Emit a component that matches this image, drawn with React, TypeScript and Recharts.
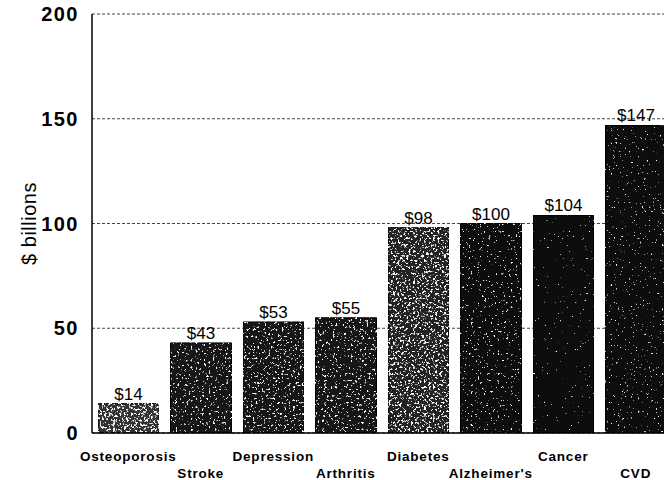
import { BarChart, Bar, XAxis, YAxis, CartesianGrid, LabelList, Cell } from 'recharts';

const conditions = ['Osteoporosis', 'Stroke', 'Depression', 'Arthritis', 'Diabetes', "Alzheimer's", 'Cancer', 'CVD'];
const costs = [14, 43, 53, 55, 98, 100, 104, 147];
const yTicks = [0, 50, 100, 150, 200];

// base tone + how much white speckle each (scanned) bar shows
const shades = ['#303030', '#141414', '#161616', '#161616', '#222222', '#101010', '#0a0a0a', '#0e0e0e'];
const speckle = [0.55, 0.64, 0.63, 0.63, 0.57, 0.68, 0.75, 0.71];

const data = conditions.map((name, i) => ({ name, cost: costs[i] }));

const font = 'Liberation Sans, Arial, sans-serif';

const StaggeredTick = ({ x, y, payload, index }: any) => (
  <text
    x={x}
    y={y + (index % 2 === 0 ? 20 : 37)}
    textAnchor="middle"
    fontFamily={font}
    fontWeight={700}
    fontSize={13.5}
    letterSpacing={0.8}
    fill="#000"
  >
    {payload.value}
  </text>
);

const ValueTick = ({ x, y, payload }: any) => (
  <text
    x={x - 5}
    y={y + 7}
    textAnchor="end"
    fontFamily={font}
    fontWeight={700}
    fontSize={20}
    letterSpacing={1.5}
    fill="#000"
  >
    {payload.value}
  </text>
);

export default function App() {
  return (
    <div style={{ position: 'fixed', left: 0, top: 0, width: 664, height: 480, overflow: 'hidden', background: '#fff' }}>
      <BarChart
        width={680}
        height={480}
        data={data}
        margin={{ top: 14, right: 8, left: 1, bottom: 0 }}
        barCategoryGap={6}
      >
        <defs>
          {speckle.map((t, i) => (
            <filter key={i} id={`grain${i}`} x="0" y="0" width="1" height="1">
              <feTurbulence type="fractalNoise" baseFrequency="0.45" numOctaves={2} seed={i + 3} result="noise" />
              <feColorMatrix
                in="noise"
                type="matrix"
                values={`0 0 0 0 1  0 0 0 0 1  0 0 0 0 1  10 0 0 0 ${-10 * t}`}
                result="dots"
              />
              <feComposite in="dots" in2="SourceGraphic" operator="in" result="clipped" />
              <feMerge>
                <feMergeNode in="SourceGraphic" />
                <feMergeNode in="clipped" />
              </feMerge>
            </filter>
          ))}
        </defs>
        <CartesianGrid horizontal vertical={false} stroke="#444" strokeDasharray="3 2" />
        <XAxis
          dataKey="name"
          interval={0}
          height={47}
          axisLine={{ stroke: '#000', strokeWidth: 1.5 }}
          tickLine={false}
          tick={<StaggeredTick />}
        />
        <YAxis
          domain={[0, 200]}
          ticks={yTicks}
          width={91}
          axisLine={{ stroke: '#000', strokeWidth: 1.5 }}
          tickLine={false}
          tick={<ValueTick />}
          label={{
            value: '$ billions',
            angle: -90,
            position: 'insideLeft',
            offset: 28,
            style: { fontFamily: font, fontSize: 20, letterSpacing: 0.5, fill: '#000', textAnchor: 'middle' },
          }}
        />
        <Bar dataKey="cost" stroke="#000" strokeWidth={1} isAnimationActive={false}>
          {data.map((d, i) => (
            <Cell key={d.name} fill={shades[i]} filter={`url(#grain${i})`} />
          ))}
          <LabelList
            dataKey="cost"
            position="top"
            offset={4}
            formatter={(v: any) => `$${v}`}
            style={{ fontFamily: font, fontSize: 17, fill: '#000' }}
          />
        </Bar>
      </BarChart>
    </div>
  );
}
